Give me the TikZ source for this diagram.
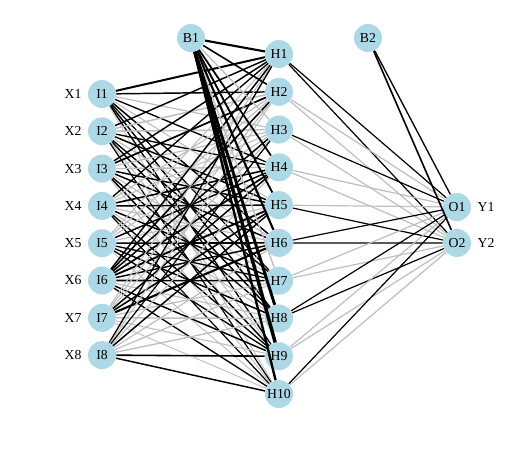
\documentclass[tikz,border=0pt]{standalone}
\usepackage{fontspec}
\setmainfont{Liberation Serif}
\definecolor{nodeblue}{RGB}{173,216,230}
\definecolor{negGrey}{RGB}{190,190,190}
\tikzset{
  neuron/.style={circle, fill=nodeblue, minimum size=21pt, inner sep=0pt, font=\fontsize{10.3}{12}\selectfont},
  varlabel/.style={font=\fontsize{10.3}{12}\selectfont},
  poswt/.style={draw=black},
  negwt/.style={draw=negGrey}
}
\begin{document}
\begin{tikzpicture}[x=0.75pt,y=-0.75pt]
\useasboundingbox (0,0) rectangle (525,450);
% input layer
\foreach \i in {1,...,8} {
  \node[neuron] (I\i) at (102,{94+(\i-1)*37.3}) {I\i};
  \node[varlabel] (X\i) at (73,{94+(\i-1)*37.3}) {X\i};
}
% hidden layer
\foreach \j in {1,...,10}
  \node[neuron] (H\j) at (279,{54+(\j-1)*37.78}) {H\j};
% output layer
\node[neuron] (O1) at (457,207) {O1};
\node[neuron] (O2) at (457,243) {O2};
\node[varlabel] (Y1) at (486,207) {Y1};
\node[varlabel] (Y2) at (486,243) {Y2};
% bias nodes
\node[neuron] (B1) at (191,38) {B1};
\node[neuron] (B2) at (368,38) {B2};

% input -> hidden
\foreach \h/\c/\w in {1/poswt/1.5,2/poswt/1.1,3/negwt/0.9,4/poswt/1.0,5/negwt/0.8,6/poswt/1.1,7/poswt/0.9,8/poswt/1.1,9/poswt/1.0,10/negwt/0.7}
  \draw[\c, line width=\w pt] (I1) -- (H\h);
\foreach \h/\c/\w in {1/poswt/1.1,2/negwt/1.1,3/negwt/1.1,4/poswt/1.0,5/poswt/1.1,6/negwt/0.9,7/poswt/1.0,8/poswt/1.1,9/negwt/0.8,10/poswt/0.9}
  \draw[\c, line width=\w pt] (I2) -- (H\h);
\foreach \h/\c/\w in {1/poswt/1.1,2/poswt/1.3,3/negwt/0.9,4/negwt/1.0,5/poswt/1.1,6/poswt/1.1,7/negwt/0.8,8/poswt/1.0,9/poswt/1.1,10/negwt/0.7}
  \draw[\c, line width=\w pt] (I3) -- (H\h);
\foreach \h/\c/\w in {1/poswt/1.0,2/negwt/0.9,3/negwt/0.8,4/poswt/1.2,5/poswt/1.1,6/negwt/0.9,7/poswt/1.1,8/negwt/0.8,9/poswt/1.0,10/poswt/0.9}
  \draw[\c, line width=\w pt] (I4) -- (H\h);
\foreach \h/\c/\w in {1/negwt/0.8,2/negwt/0.9,3/negwt/0.8,4/poswt/1.1,5/negwt/0.9,6/poswt/1.2,7/poswt/1.0,8/poswt/1.1,9/poswt/1.0,10/negwt/0.7}
  \draw[\c, line width=\w pt] (I5) -- (H\h);
\foreach \h/\c/\w in {1/poswt/1.1,2/poswt/1.2,3/poswt/1.1,4/poswt/1.3,5/poswt/1.4,6/poswt/1.1,7/poswt/1.2,8/negwt/0.9,9/poswt/1.1,10/poswt/1.0}
  \draw[\c, line width=\w pt] (I6) -- (H\h);
\foreach \h/\c/\w in {1/negwt/0.8,2/negwt/0.9,3/negwt/0.8,4/poswt/1.1,5/poswt/1.2,6/poswt/1.6,7/negwt/0.9,8/negwt/1.1,9/negwt/0.8,10/negwt/0.7}
  \draw[\c, line width=\w pt] (I7) -- (H\h);
\foreach \h/\c/\w in {1/poswt/1.0,2/negwt/0.8,3/poswt/0.9,4/negwt/0.9,5/poswt/1.1,6/negwt/0.9,7/negwt/0.9,8/negwt/1.0,9/poswt/1.2,10/poswt/1.1}
  \draw[\c, line width=\w pt] (I8) -- (H\h);

% bias -> hidden
\foreach \h/\c/\w in {1/poswt/1.6,2/poswt/1.2,3/negwt/1.0,4/poswt/1.3,5/poswt/1.4,6/poswt/1.6,7/negwt/1.0,8/poswt/2.2,9/poswt/2.6,10/poswt/1.8}
  \draw[\c, line width=\w pt] (B1) -- (H\h);

% hidden -> output
\foreach \h/\ca/\cb in {1/poswt/poswt,2/negwt/negwt,3/poswt/negwt,4/negwt/negwt,5/negwt/poswt,6/poswt/poswt,7/negwt/negwt,8/poswt/poswt,9/negwt/negwt,10/poswt/negwt} {
  \draw[\ca, line width=0.9pt] (H\h) -- (O1);
  \draw[\cb, line width=0.9pt] (H\h) -- (O2);
}

% bias -> output
\draw[poswt, line width=1.0pt] (B2) -- (O1);
\draw[poswt, line width=1.2pt] (B2) -- (O2);
\end{tikzpicture}
\end{document}
